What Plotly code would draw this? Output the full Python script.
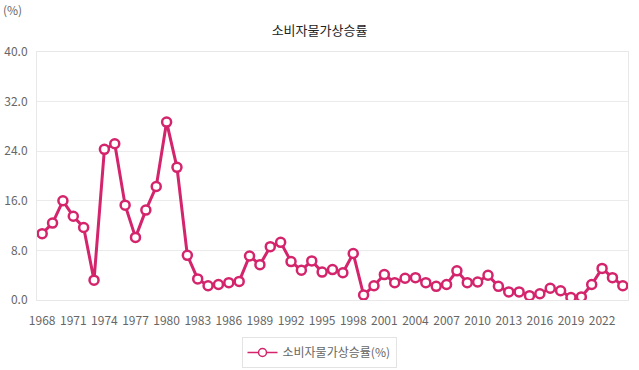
import plotly.graph_objects as go

years = [str(y) for y in range(1968, 2025)]
cpi = [10.7, 12.4, 16.0, 13.5, 11.7, 3.2, 24.3, 25.2, 15.3, 10.1,
       14.5, 18.3, 28.7, 21.4, 7.2, 3.4, 2.3, 2.5, 2.8, 3.0,
       7.1, 5.7, 8.6, 9.3, 6.2, 4.8, 6.3, 4.5, 4.9, 4.4,
       7.5, 0.8, 2.3, 4.1, 2.8, 3.5, 3.6, 2.8, 2.2, 2.5,
       4.7, 2.8, 2.9, 4.0, 2.2, 1.3, 1.3, 0.7, 1.0, 1.9,
       1.5, 0.4, 0.5, 2.5, 5.1, 3.6, 2.3]
tick_years = [str(y) for y in range(1968, 2025, 3)]
y_ticks = [0, 8, 16, 24, 32, 40]
series_name = "소비자물가상승률(%)"
title_text = "소비자물가상승률"

color = "#d3246c"
font_family = "Noto Sans CJK KR, Noto Sans, sans-serif"

fig = go.Figure()
fig.add_trace(go.Scatter(
    x=years, y=cpi, mode="lines+markers", name=series_name, showlegend=False,
    line=dict(color=color, width=3),
    marker=dict(symbol="circle", size=9, color="white",
                line=dict(color=color, width=2.5)),
))
# legend entry (thin line, small marker like the reference legend)
fig.add_trace(go.Scatter(
    x=[None], y=[None], mode="lines+markers", name=series_name,
    line=dict(color=color, width=1.5),
    marker=dict(symbol="circle", size=8, color="white",
                line=dict(color=color, width=1.5)),
))

fig.update_layout(
    width=639, height=370,
    margin=dict(l=37, r=11, t=52, b=70, autoexpand=False),
    paper_bgcolor="white", plot_bgcolor="white",
    font=dict(family=font_family, size=12, color="#666666"),
    title=dict(text=title_text, x=0.5, xanchor="center", yref="container",
               y=1 - 30 / 370, yanchor="middle",
               font=dict(size=13, color="#222222", family=font_family)),
    showlegend=True,
    legend=dict(orientation="h", x=(319 - 37) / 591, xanchor="center", yref="container",
                y=1 - 337 / 370, yanchor="top", itemwidth=30,
                bordercolor="#e3e3e3", borderwidth=1,
                font=dict(size=12, color="#666666")),
    xaxis=dict(type="category", tickmode="array", tickvals=tick_years, ticktext=tick_years,
               showgrid=False, showline=True, linecolor="#e8e8e8", linewidth=1, mirror=True,
               ticks="outside", ticklen=10, tickcolor="rgba(0,0,0,0)",
               tickfont=dict(size=12, color="#666666"), tickangle=0,
               range=[-0.5, len(years) - 0.5], automargin=False),
    yaxis=dict(range=[0, 40], tickvals=y_ticks, tickformat=".1f",
               showgrid=True, gridcolor="#ebebeb", gridwidth=1,
               showline=True, linecolor="#e8e8e8", mirror=True, zeroline=False,
               ticks="outside", ticklen=6, tickcolor="rgba(0,0,0,0)",
               tickfont=dict(size=12, color="#666666"), automargin=False),
    annotations=[dict(text="(%)", xref="paper", yref="paper", x=-36 / 591, y=1 + 42 / 248,
                      xanchor="left", yanchor="middle", showarrow=False,
                      font=dict(size=12, color="#666666"))],
)

fig.write_html("out.html", config={"displayModeBar": False},
               post_script="document.body.style.margin='0';document.body.style.overflow='hidden';")
